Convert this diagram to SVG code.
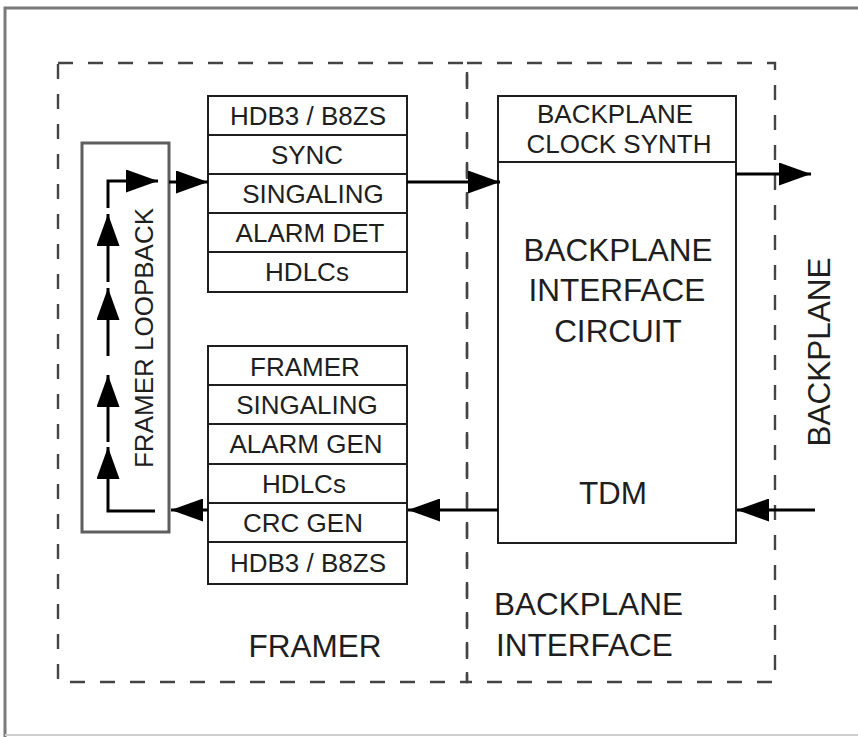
<svg xmlns="http://www.w3.org/2000/svg" width="858" height="737" viewBox="0 0 858 737">
<style>
text{font-family:"Liberation Sans",Arial,sans-serif;fill:#1e1e1e}
.s{font-size:26px}
.b{font-size:31.5px}
.box{fill:#fff;stroke:#1e1e1e;stroke-width:2}
.row{stroke:#1e1e1e;stroke-width:2}
.dash{fill:none;stroke:#444;stroke-width:2.4;stroke-dasharray:15 15}
.con{fill:none;stroke:#000;stroke-width:3;marker-end:url(#ah)}
</style>
<defs>
<marker id="ah" markerUnits="userSpaceOnUse" markerWidth="32" markerHeight="23" refX="32" refY="11.5" orient="auto">
<path d="M0,0 L32,11.5 L0,23 Z" fill="#000"/>
</marker>
</defs>
<rect width="858" height="737" fill="#fff"/>
<g id="frame">
<path d="M5,737 V8 H858" fill="none" stroke="#7a7a7a" stroke-width="3"/>
<line x1="5" y1="735" x2="858" y2="735" stroke="#cfcfcf" stroke-width="2"/>
</g>
<g id="framer-region">
<rect class="dash" x="58" y="63" width="409" height="619"/>
<text class="b" x="315" y="657" text-anchor="middle">FRAMER</text>
</g>
<g id="backplane-interface-region">
<rect class="dash" x="467" y="63" width="308" height="619"/>
<text class="b" x="494" y="615">BACKPLANE</text>
<text class="b" x="496" y="656">INTERFACE</text>
</g>
<g id="loopback">
<rect x="82" y="143" width="87" height="389" fill="none" stroke="#5e5e5e" stroke-width="3"/>
<text class="s" transform="translate(153,338) rotate(-90)" text-anchor="middle">FRAMER LOOPBACK</text>
</g>
<g id="rx-stack">
<rect class="box" x="208" y="96" width="199" height="196"/>
<line class="row" x1="208" y1="135" x2="407" y2="135"/>
<line class="row" x1="208" y1="174" x2="407" y2="174"/>
<line class="row" x1="208" y1="213" x2="407" y2="213"/>
<line class="row" x1="208" y1="252" x2="407" y2="252"/>
<text class="s" x="308" y="125" text-anchor="middle">HDB3 / B8ZS</text>
<text class="s" x="307" y="164" text-anchor="middle">SYNC</text>
<text class="s" x="313" y="203" text-anchor="middle">SINGALING</text>
<text class="s" x="310" y="242" text-anchor="middle">ALARM DET</text>
<text class="s" x="307" y="281" text-anchor="middle">HDLCs</text>
</g>
<g id="tx-stack">
<rect class="box" x="208" y="346" width="199" height="238"/>
<line class="row" x1="208" y1="385" x2="407" y2="385"/>
<line class="row" x1="208" y1="424" x2="407" y2="424"/>
<line class="row" x1="208" y1="464" x2="407" y2="464"/>
<line class="row" x1="208" y1="503" x2="407" y2="503"/>
<line class="row" x1="208" y1="542" x2="407" y2="542"/>
<text class="s" x="305" y="376" text-anchor="middle">FRAMER</text>
<text class="s" x="307" y="414" text-anchor="middle">SINGALING</text>
<text class="s" x="306" y="453" text-anchor="middle">ALARM GEN</text>
<text class="s" x="304" y="493" text-anchor="middle">HDLCs</text>
<text class="s" x="303" y="532" text-anchor="middle">CRC GEN</text>
<text class="s" x="308" y="572" text-anchor="middle">HDB3 / B8ZS</text>
</g>
<g id="backplane-circuit">
<rect class="box" x="498" y="96" width="238" height="447"/>
<line class="row" x1="498" y1="162" x2="736" y2="162"/>
<text class="s" x="615" y="123" text-anchor="middle">BACKPLANE</text>
<text class="s" x="619" y="153" text-anchor="middle">CLOCK SYNTH</text>
<text class="b" x="618" y="261" text-anchor="middle">BACKPLANE</text>
<text class="b" x="617" y="301" text-anchor="middle">INTERFACE</text>
<text class="b" x="618" y="342" text-anchor="middle">CIRCUIT</text>
<text class="b" x="613" y="504" text-anchor="middle">TDM</text>
</g>
<g id="backplane-label">
<text class="b" transform="translate(830,352) rotate(-90)" text-anchor="middle">BACKPLANE</text>
</g>
<g id="connectors">
<path class="con" d="M155,511 H108 V447"/>
<path class="con" d="M108,442 V375"/>
<path class="con" d="M108,356 V288"/>
<path class="con" d="M108,282 V214"/>
<path class="con" d="M108,208 V181 H158"/>
<path class="con" d="M169,182 H208"/>
<path class="con" d="M407,182 H500"/>
<path class="con" d="M736,174 H811"/>
<path class="con" d="M815,510 H737"/>
<path class="con" d="M498,510 H408"/>
<path class="con" d="M208,510 H171"/>
</g>
</svg>
